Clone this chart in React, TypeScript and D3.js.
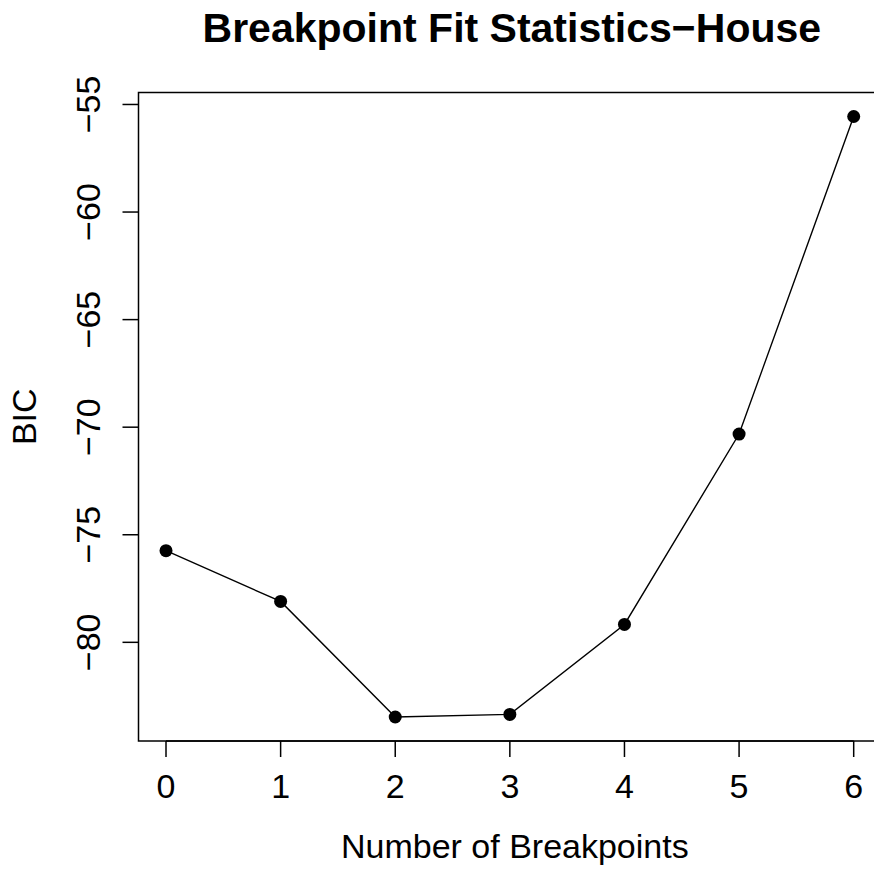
import React from "react";
import * as d3 from "d3";

// chart data
const breakpoints = [0, 1, 2, 3, 4, 5, 6];
const bic = [-75.74, -78.1, -83.47, -83.35, -79.17, -70.32, -55.56];
const xTicks = [0, 1, 2, 3, 4, 5, 6];
const yTicks = [-80, -75, -70, -65, -60, -55];

const title = "Breakpoint Fit Statistics\u2212House";
const xLabel = "Number of Breakpoints";
const yLabel = "BIC";

const W = 874;
const H = 871;
const PLOT = { left: 138.5, right: 881.2, top: 92.5, bottom: 741 };
const FONT = "'Liberation Sans', Arial, Helvetica, sans-serif";

// R style axis padding: 4% on each side
const pad = (ext: [number, number]) => {
  const d = (ext[1] - ext[0]) * 0.04;
  return [ext[0] - d, ext[1] + d];
};

const fmt = (v: number) => (v < 0 ? "\u2212" + Math.abs(v) : String(v));

export default function App() {
  const x = d3
    .scaleLinear()
    .domain(pad(d3.extent(breakpoints) as [number, number]))
    .range([PLOT.left, PLOT.right]);
  const y = d3
    .scaleLinear()
    .domain(pad(d3.extent(bic) as [number, number]))
    .range([PLOT.bottom, PLOT.top]);

  const line = d3
    .line<number>()
    .x((_, i) => x(breakpoints[i]))
    .y((d) => y(d));

  const tickLen = 16;

  return (
    <svg
      width={W}
      height={H}
      style={{ position: "absolute", left: 0, top: 0, background: "#fff" }}
      fontFamily={FONT}
    >
      <rect x={0} y={0} width={W} height={H} fill="#fff" />
      <text x={(PLOT.left + PLOT.right) / 2 + 2} y={41.7} textAnchor="middle" fontWeight="bold" fontSize={41}>
        {title}
      </text>

      <rect
        x={PLOT.left}
        y={PLOT.top}
        width={PLOT.right - PLOT.left}
        height={PLOT.bottom - PLOT.top}
        fill="none"
        stroke="#000"
        strokeWidth={1.5}
      />

      {/* x axis */}
      <line x1={x(xTicks[0])} x2={x(xTicks[xTicks.length - 1])} y1={PLOT.bottom} y2={PLOT.bottom} stroke="#000" strokeWidth={1.5} />
      {xTicks.map((t) => (
        <g key={"x" + t}>
          <line x1={x(t)} x2={x(t)} y1={PLOT.bottom} y2={PLOT.bottom + tickLen} stroke="#000" strokeWidth={1.5} />
          <text x={x(t)} y={798.3} textAnchor="middle" fontSize={34}>
            {fmt(t)}
          </text>
        </g>
      ))}
      <text x={(PLOT.left + PLOT.right) / 2 + 5} y={858} textAnchor="middle" fontSize={34}>
        {xLabel}
      </text>

      {/* y axis */}
      {yTicks.map((t) => (
        <g key={"y" + t}>
          <line x1={PLOT.left - tickLen} x2={PLOT.left} y1={y(t)} y2={y(t)} stroke="#000" strokeWidth={1.5} />
          <text transform={`translate(100,${y(t)}) rotate(-90)`} textAnchor="middle" fontSize={34}>
            {fmt(t)}
          </text>
        </g>
      ))}
      <text
        transform={`translate(36,${(PLOT.top + PLOT.bottom) / 2}) rotate(-90)`}
        textAnchor="middle"
        fontSize={34}
      >
        {yLabel}
      </text>

      <path d={line(bic) || ""} fill="none" stroke="#000" strokeWidth={1.4} />
      {bic.map((v, i) => (
        <circle key={i} cx={x(breakpoints[i])} cy={y(v)} r={6.5} fill="#000" />
      ))}
    </svg>
  );
}
